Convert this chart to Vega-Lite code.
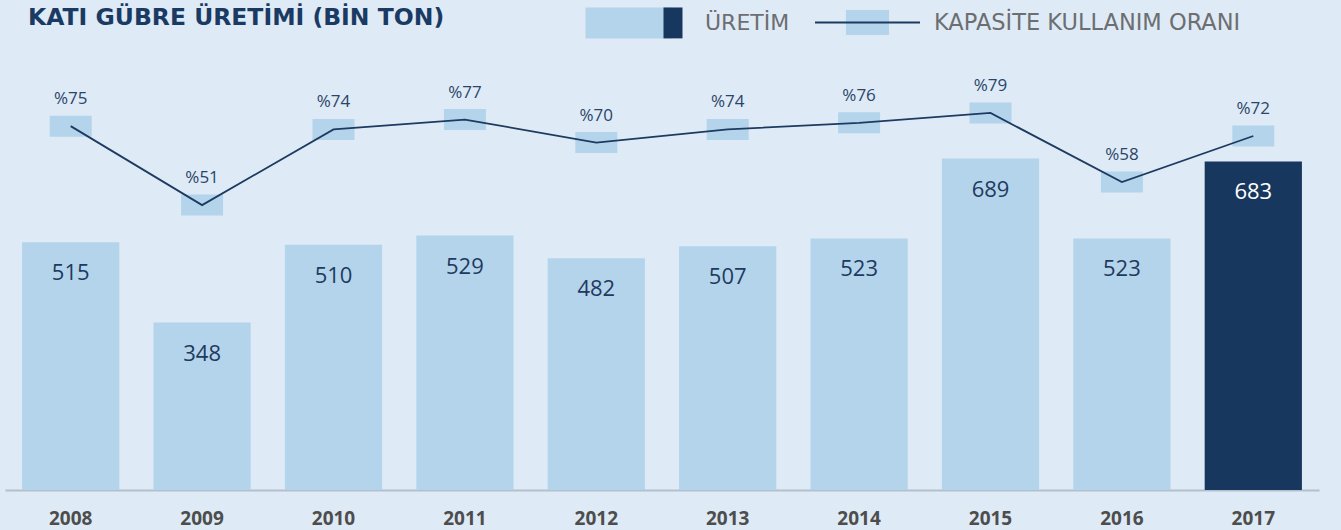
{
  "$schema": "https://vega.github.io/schema/vega-lite/v6.json",
  "width": 1314,
  "height": 430,
  "autosize": {"type": "none"},
  "padding": {"left": 5, "top": 60, "right": 22, "bottom": 40},
  "background": "#deebf6",
  "config": {"view": {"stroke": null}, "font": "Open Sans"},
  "title": {
    "text": "KATI GÜBRE ÜRETİMİ (BİN TON)",
    "anchor": "start",
    "frame": "group",
    "dx": 23,
    "offset": -76,
    "baseline": "middle",
    "fontSize": 23.5,
    "font": "DejaVu Sans",
    "fontWeight": "bold",
    "color": "#1b3a63"
  },
  "data": {
    "values": [
      {"yil": "2008", "uretim": 515, "oran": 75},
      {"yil": "2009", "uretim": 348, "oran": 51},
      {"yil": "2010", "uretim": 510, "oran": 74},
      {"yil": "2011", "uretim": 529, "oran": 77},
      {"yil": "2012", "uretim": 482, "oran": 70},
      {"yil": "2013", "uretim": 507, "oran": 74},
      {"yil": "2014", "uretim": 523, "oran": 76},
      {"yil": "2015", "uretim": 689, "oran": 79},
      {"yil": "2016", "uretim": 523, "oran": 58},
      {"yil": "2017", "uretim": 683, "oran": 72}
    ]
  },
  "encoding": {
    "x": {
      "field": "yil",
      "type": "ordinal",
      "scale": {"paddingInner": 0.26, "paddingOuter": 0.13},
      "axis": {
        "title": null,
        "labelAngle": 0,
        "labelFont": "Open Sans",
        "labelFontWeight": "bold",
        "labelFontSize": 19,
        "labelColor": "#4d4d4d",
        "labelPadding": 19,
        "ticks": false,
        "domainColor": "#b3bfcb",
        "domainWidth": 2
      }
    }
  },
  "layer": [
    {
      "encoding": {
        "y": {"field": "uretim", "type": "quantitative", "scale": {"domain": [0, 894]}, "axis": null}
      },
      "layer": [
        {
          "mark": {"type": "bar"},
          "encoding": {
            "color": {
              "datum": "ÜRETİM",
              "type": "nominal",
              "scale": {"domain": ["ÜRETİM"], "range": ["#b4d4ec"]},
              "condition": {"test": "datum.yil === '2017'", "value": "#17375e"},
              "legend": {
                "title": null,
                "orient": "none",
                "legendX": 571,
                "legendY": -95,
                "padding": 0,
                "symbolType": "M0.804,-0.32V0.32H-1V-0.32Z",
                "symbolSize": 9409,
                "symbolFillColor": "#b4d4ec",
                "symbolStrokeColor": "#17375e",
                "symbolStrokeWidth": 19,
                "symbolDash": [30.9, 3000],
                "symbolOpacity": 1,
                "labelFont": "DejaVu Sans",
                "labelFontSize": 22,
                "labelColor": "#6d6e71",
                "labelOffset": 13,
                "labelLimit": 500,
                "encode": {
                  "symbols": {
                    "update": {
                      "fill": {"value": "#b4d4ec"},
                      "stroke": {"value": "#17375e"},
                      "strokeWidth": {"value": 19},
                      "strokeDash": {"value": [30.9, 3000]},
                      "opacity": {"value": 1},
                      "shape": {"value": "M0.804,-0.32V0.32H-1V-0.32Z"}
                    }
                  }
                }
              }
            }
          }
        },
        {
          "mark": {"type": "text", "baseline": "middle", "dy": 31, "fontSize": 22, "font": "Open Sans"},
          "encoding": {
            "text": {"field": "uretim", "type": "quantitative"},
            "color": {"condition": {"test": "datum.yil === '2017'", "value": "#ffffff"}, "value": "#1f3a60"}
          }
        }
      ]
    },
    {
      "encoding": {
        "y": {"field": "oran", "type": "quantitative", "scale": {"domain": [-35.6, 95.1]}, "axis": null}
      },
      "layer": [
        {
          "mark": {"type": "point", "shape": "M-1,-0.5H1V0.5H-1Z", "size": 1764, "filled": true, "opacity": 1, "color": "#b4d4ec", "strokeWidth": 0}
        },
        {
          "mark": {"type": "line", "strokeWidth": 1.8},
          "encoding": {
            "stroke": {
              "datum": "KAPASİTE KULLANIM ORANI",
              "type": "nominal",
              "scale": {"domain": ["KAPASİTE KULLANIM ORANI"], "range": ["#1d3a60"]},
              "legend": {
                "title": null,
                "orient": "none",
                "legendX": 809,
                "legendY": -91,
                "padding": 0,
                "symbolType": "M-1,0H1H0.41V-0.238H-0.41V0.238H0.41V0Z",
                "symbolSize": 11025,
                "symbolFillColor": "#b4d4ec",
                "symbolStrokeColor": "#1d3a60",
                "symbolStrokeWidth": 2,
                "symbolDash": [105, 3000],
                "symbolOpacity": 1,
                "labelFont": "DejaVu Sans",
                "labelFontSize": 22.5,
                "labelColor": "#6d6e71",
                "labelOffset": 13,
                "labelLimit": 500,
                "encode": {
                  "symbols": {
                    "update": {
                      "fill": {"value": "#b4d4ec"},
                      "stroke": {"value": "#1d3a60"},
                      "strokeWidth": {"value": 2},
                      "strokeDash": {"value": [105, 3000]},
                      "opacity": {"value": 1},
                      "shape": {"value": "M-1,0H1H0.41V-0.238H-0.41V0.238H0.41V0Z"}
                    }
                  }
                }
              }
            }
          }
        },
        {
          "mark": {"type": "text", "baseline": "middle", "dy": -27, "fontSize": 17, "font": "Open Sans", "color": "#2b4468", "text": {"expr": "'%' + datum.oran"}}
        }
      ]
    }
  ],
  "resolve": {"scale": {"y": "independent"}}
}
